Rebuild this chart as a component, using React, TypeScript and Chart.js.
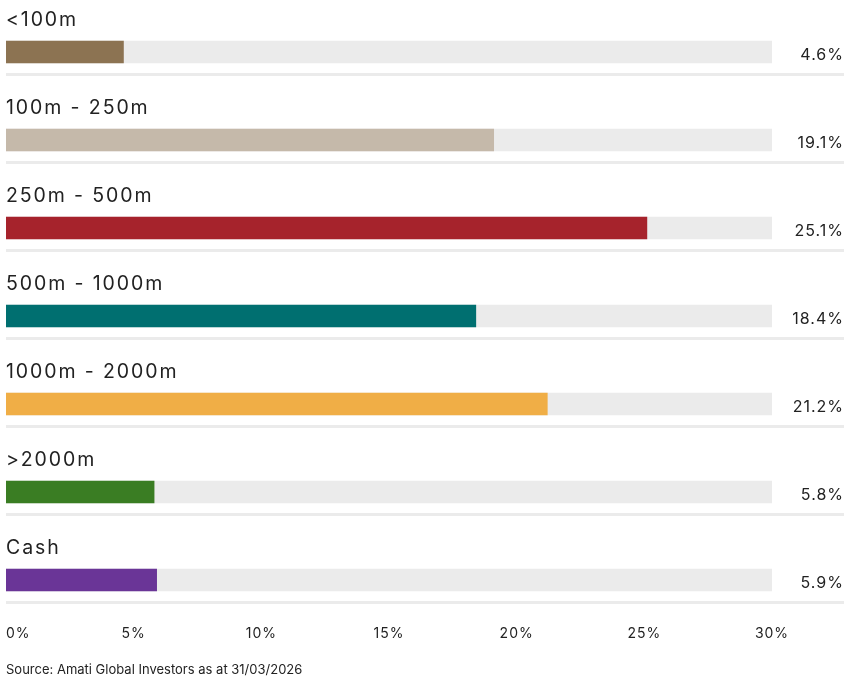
import React, { useEffect, useRef } from 'react';
import { Chart, registerables } from 'chart.js';

Chart.register(...registerables);

const categories = ['<100m', '100m - 250m', '250m - 500m', '500m - 1000m', '1000m - 2000m', '>2000m', 'Cash'];
const values = [4.6, 19.1, 25.1, 18.4, 21.2, 5.8, 5.9];
const valueLabels = ['4.6%', '19.1%', '25.1%', '18.4%', '21.2%', '5.8%', '5.9%'];
const barColors = ['#8C7352', '#C5B9AA', '#A6232C', '#006F70', '#F0AE46', '#3A7D23', '#6A3597'];
const axisMin = 0;
const axisMax = 30;
const tickValues = [0, 5, 10, 15, 20, 25, 30];
const tickLabels = ['0%', '5%', '10%', '15%', '20%', '25%', '30%'];
const trackValues = categories.map(() => axisMax);
const sourceText = 'Source: Amati Global Investors as at 31/03/2026';

const FONT = 'Inter, "Noto Sans", sans-serif';
const TEXT_COLOR = '#222222';
const TRACK_COLOR = '#EBEBEB';

const overlayPlugin = {
  id: 'overlay',
  afterDatasetsDraw(chart: any) {
    const ctx = chart.ctx;
    const xs = chart.scales.x;
    const ys = chart.scales.y;
    const area = chart.chartArea;
    ctx.save();
    categories.forEach((cat, i) => {
      const y = ys.getPixelForValue(i);
      // category label above bar
      ctx.fillStyle = TEXT_COLOR;
      ctx.font = `400 19.5px ${FONT}`;
      (ctx as any).letterSpacing = '1.9px';
      ctx.textAlign = 'left';
      ctx.textBaseline = 'alphabetic';
      ctx.fillText(cat, xs.left, y - 26);
      // value label on right
      ctx.font = `400 16px ${FONT}`;
      (ctx as any).letterSpacing = '1px';
      ctx.textAlign = 'right';
      ctx.fillText(valueLabels[i], chart.width - 17, y + 8);
      // separator line
      ctx.fillStyle = TRACK_COLOR;
      ctx.fillRect(xs.left, y + 21, chart.width - 17 - xs.left, 3);
    });
    // x tick labels
    ctx.fillStyle = TEXT_COLOR;
    ctx.font = `400 14px ${FONT}`;
    (ctx as any).letterSpacing = '1px';
    ctx.textBaseline = 'alphabetic';
    tickValues.forEach((v, i) => {
      const x = xs.getPixelForValue(v);
      ctx.textAlign = i === 0 ? 'left' : 'center';
      ctx.fillText(tickLabels[i], x, area.bottom + 14);
    });
    // source
    ctx.font = `400 13px ${FONT}`;
    (ctx as any).letterSpacing = '0px';
    ctx.textAlign = 'left';
    ctx.fillText(sourceText, xs.left, area.bottom + 50);
    ctx.restore();
  },
};

export default function App() {
  const canvasRef = useRef<HTMLCanvasElement | null>(null);

  useEffect(() => {
    document.body.style.margin = '0';
    const canvas = canvasRef.current;
    if (!canvas) return;
    const chart = new Chart(canvas, {
      type: 'bar',
      data: {
        labels: categories,
        datasets: [
          {
            data: values,
            backgroundColor: barColors,
            barThickness: 22,
            grouped: false,
            order: 0,
          },
          {
            data: trackValues,
            backgroundColor: TRACK_COLOR,
            barThickness: 22,
            grouped: false,
            order: 1,
          },
        ],
      },
      options: {
        indexAxis: 'y',
        responsive: false,
        maintainAspectRatio: false,
        animation: false,
        devicePixelRatio: 1,
        layout: { padding: { left: 6, right: 89, top: 8, bottom: 57 } },
        scales: {
          x: { display: false, min: axisMin, max: axisMax },
          y: { display: false, offset: true },
        },
        plugins: {
          legend: { display: false },
          tooltip: { enabled: false },
        },
      },
      plugins: [overlayPlugin],
    } as any);
    return () => chart.destroy();
  }, []);

  return (
    <div style={{ width: 861, height: 681, background: '#fff' }}>
      <canvas ref={canvasRef} width={861} height={681} style={{ display: 'block' }} />
    </div>
  );
}
